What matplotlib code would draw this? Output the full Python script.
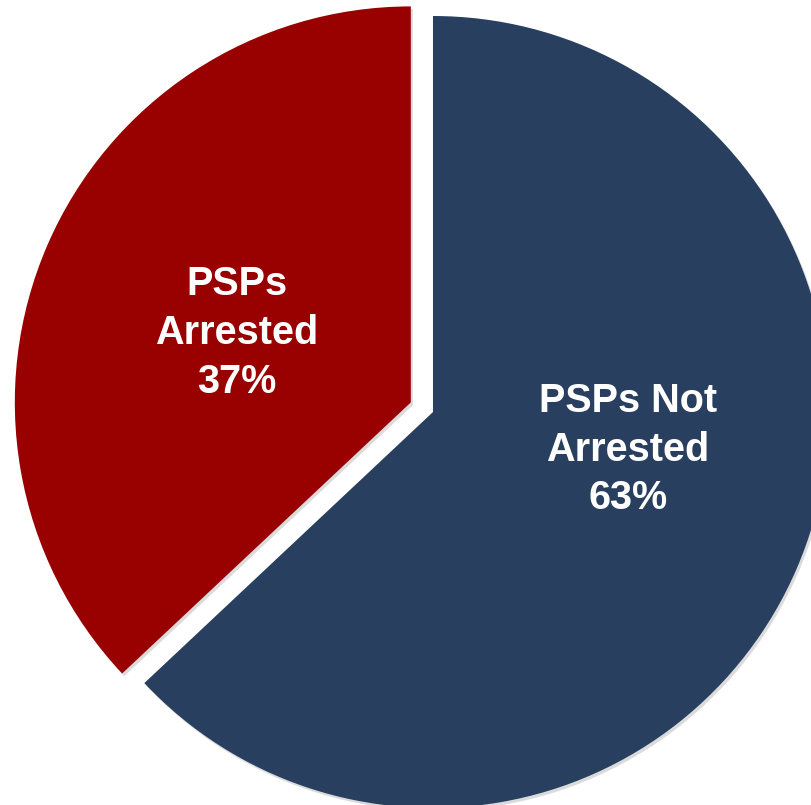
import matplotlib
matplotlib.use('Agg')
import matplotlib.pyplot as plt
import matplotlib.patheffects as pe

# ── data ──
labels = ['PSPs Not\nArrested', 'PSPs\nArrested']
shares = [63, 37]

# ── colours ──
BLUE = '#283F5F'
RED  = '#990000'

fig = plt.figure(figsize=(8.12, 8.05), dpi=100, facecolor='white')
ax = fig.add_axes([0, 0, 1, 1])
ax.set_facecolor('white')

wedges, _ = ax.pie(shares, colors=[BLUE, RED], startangle=90, counterclock=False,
                   explode=[0, 0.061], radius=1.0,
                   wedgeprops={'linewidth': 0})
for w in wedges:
    w.set_path_effects([pe.SimplePatchShadow(offset=(1.5, -2), shadow_rgbFace='#999999',
                                             alpha=0.35),
                        pe.Normal()])

# pie is cropped on the right/bottom in the reference
ax.set_xlim(-1.0934, 0.9571)
ax.set_ylim(-0.9924, 1.0404)
ax.set_aspect('equal')
ax.axis('off')

# labels inside the slices
txt_pos = [(0.492, -0.095), (-0.495, 0.200)]
for lab, s, (x, y) in zip(labels, shares, txt_pos):
    ax.text(x, y, f'{lab}\n{s}%', color='white', fontsize=28.5, fontweight='bold',
            family=['Liberation Sans', 'DejaVu Sans'], ha='center', va='center',
            linespacing=1.36)

fig.savefig('out.png', dpi=100, facecolor='white')
